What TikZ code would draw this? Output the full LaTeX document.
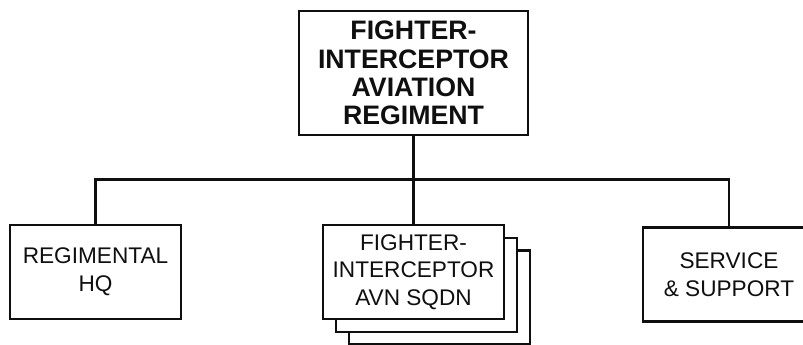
\documentclass[tikz,border=0pt]{standalone}
\usepackage{fontspec}
\setmainfont{Liberation Sans}
\usetikzlibrary{positioning}
\definecolor{orgink}{RGB}{15, 15, 15}
\tikzset{
  unit box/.style={
    draw=orgink,
    line width=2.1pt,
    fill=white,
    align=center,
    inner sep=1pt,
    minimum height=2.82cm,
    font=\fontsize{19.3}{23.5}\selectfont\color{orgink}
  },
  regiment box/.style={
    unit box,
    minimum width=6.87cm,
    minimum height=3.72cm,
    font=\bfseries\fontsize{22.8}{24.2}\selectfont\color{orgink}
  },
  link/.style={
    draw=orgink,
    line width=1.9pt
  }
}

\begin{document}
\begin{tikzpicture}[x=0.03cm, y=-0.03cm]
          \clip (0,0) rectangle (803,345);
          \node[regiment box] (regt) at (413.5, 73) {FIGHTER-\\INTERCEPTOR\\AVIATION\\REGIMENT};
          \node[unit box, minimum width=5.13cm] (hq) at (95.5, 272) {REGIMENTAL\\HQ};
          \node[unit box, minimum width=5.43cm] (sqdnc) at (439.5, 297.5) {};
          \node[unit box, minimum width=5.43cm] (sqdnb) at (426.5, 285) {};
          \node[unit box, minimum width=5.43cm] (sqdn) at (413.5, 272) {FIGHTER-\\INTERCEPTOR\\AVN SQDN};
          \node[unit box, minimum width=5.16cm] (svc) at (729, 274.5) {SERVICE\\\& SUPPORT};
          \coordinate (bar) at (413.5, 179.5);

          \draw[link] (regt.south) -- (bar);
          \draw[link] (hq.north) |- (bar) -| (svc.north);
          \draw[link] (bar) -- (sqdn.north);
        \end{tikzpicture}
\end{document}
